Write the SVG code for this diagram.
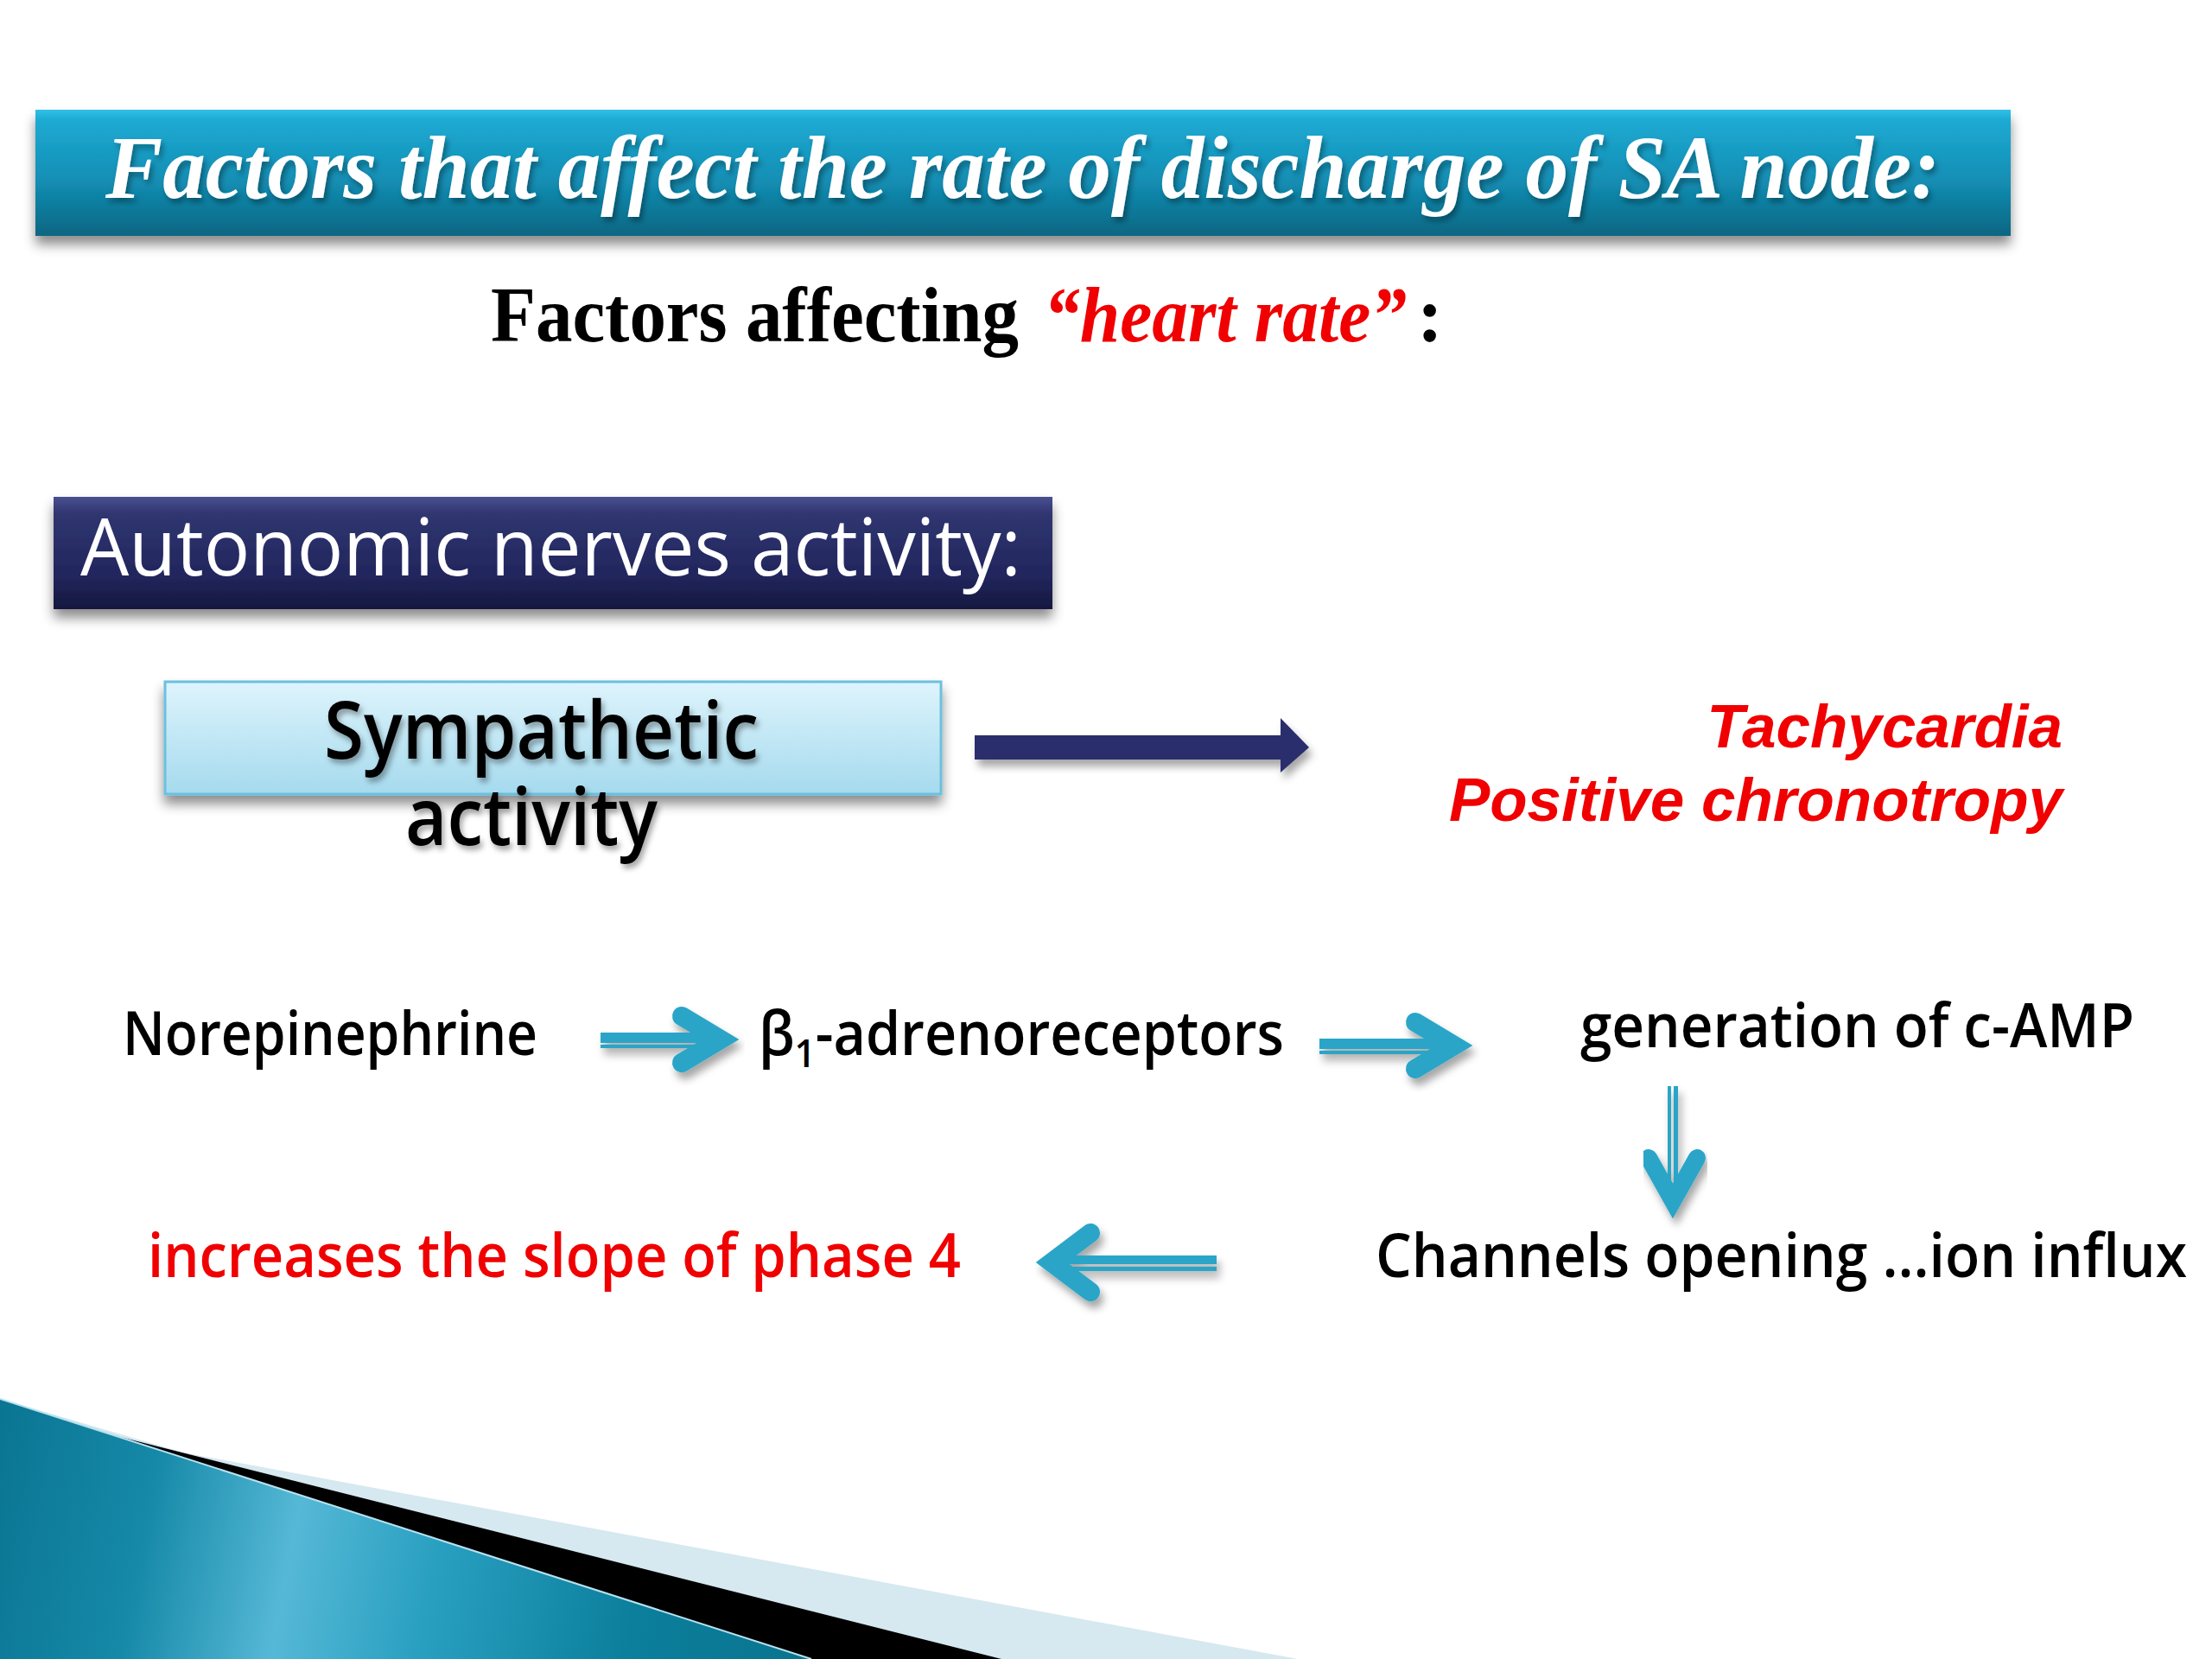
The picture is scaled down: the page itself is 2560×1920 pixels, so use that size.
<svg xmlns="http://www.w3.org/2000/svg" width="2560" height="1920" viewBox="0 0 2560 1920">
<style>
.sans{font-family:"Open Sans","Noto Sans","DejaVu Sans",sans-serif;}
.body{font-size:70px;fill:#000;font-weight:600;}
.red{fill:#f00000;}
.cy{fill:#2aa5c8;}
.cyl{stroke:#2aa5c8;fill:none;stroke-width:22;stroke-linecap:round;stroke-linejoin:miter;stroke-miterlimit:6;}
.serif{font-family:"Liberation Serif","Times New Roman",serif;font-weight:bold;}
</style>
<defs>
<linearGradient id="gTitle" x1="0" y1="0" x2="0" y2="1">
<stop offset="0" stop-color="#2fc0e8"/>
<stop offset="0.08" stop-color="#1eaad3"/>
<stop offset="0.55" stop-color="#138fb5"/>
<stop offset="1" stop-color="#0a6682"/>
</linearGradient>
<linearGradient id="gAuto" x1="0" y1="0" x2="0" y2="1">
<stop offset="0" stop-color="#4a5090"/>
<stop offset="0.15" stop-color="#303570"/>
<stop offset="0.7" stop-color="#22265d"/>
<stop offset="1" stop-color="#15183f"/>
</linearGradient>
<linearGradient id="gSym" x1="0" y1="0" x2="0" y2="1">
<stop offset="0" stop-color="#def4fc"/>
<stop offset="1" stop-color="#a5daee"/>
</linearGradient>
<linearGradient id="gTeal" x1="0" y1="1620" x2="940" y2="1800" gradientUnits="userSpaceOnUse">
<stop offset="0" stop-color="#0a7593"/>
<stop offset="0.2" stop-color="#1689a8"/>
<stop offset="0.38" stop-color="#55b8d6"/>
<stop offset="0.55" stop-color="#2aa0c1"/>
<stop offset="0.8" stop-color="#0b7f9c"/>
<stop offset="1" stop-color="#0a7590"/>
</linearGradient>
<filter id="sh" x="-5%" y="-20%" width="110%" height="160%">
<feDropShadow dx="0" dy="10" stdDeviation="7" flood-color="#000" flood-opacity="0.45"/>
</filter>
<filter id="shs" x="-10%" y="-30%" width="130%" height="180%">
<feDropShadow dx="4" dy="8" stdDeviation="5" flood-color="#000" flood-opacity="0.35"/>
</filter>
<filter id="tsh" x="-5%" y="-20%" width="110%" height="150%">
<feDropShadow dx="3" dy="5" stdDeviation="3" flood-color="#000" flood-opacity="0.35"/>
</filter>
</defs>
<rect width="2560" height="1920" fill="#fff"/>

<g id="decoration">
<polygon points="0,1619 212,1681 1502,1920 0,1920" fill="#d6e8f0"/>
<polygon points="0,1619 139,1663 1159,1920 0,1920" fill="#000"/>
<polygon points="0,1619 939,1920 0,1920" fill="url(#gTeal)"/>
<line x1="0" y1="1619" x2="939" y2="1920" stroke="#b8e2ef" stroke-width="2"/>
</g>

<g id="title">
<rect x="41" y="127" width="2286" height="146" fill="url(#gTitle)" filter="url(#sh)"/>
<text class="serif" x="122" y="229" font-style="italic" font-size="104" fill="#fff" textLength="2123" lengthAdjust="spacingAndGlyphs" filter="url(#tsh)">Factors that affect the rate of discharge of SA node:</text>
</g>

<g id="subtitle">
<text class="serif" x="568" y="395" font-size="90" fill="#000" textLength="611" lengthAdjust="spacingAndGlyphs">Factors affecting</text>
<text class="serif" x="1208" y="395" font-size="90" font-style="italic" fill="#f00000" textLength="420" lengthAdjust="spacingAndGlyphs">“heart rate”</text>
<text class="serif" x="1640" y="395" font-size="90" fill="#000">:</text>
</g>

<g id="autonomic">
<rect x="62" y="575" width="1156" height="130" fill="url(#gAuto)" filter="url(#sh)"/>
<text class="sans" x="93" y="666" font-size="92" font-weight="500" fill="#fff" textLength="1089" lengthAdjust="spacingAndGlyphs">Autonomic nerves activity:</text>
</g>

<g id="sympathetic">
<rect x="191" y="789" width="898" height="130" fill="url(#gSym)" stroke="#6cc0de" stroke-width="3" filter="url(#sh)"/>
<g filter="url(#tsh)">
<text class="sans" x="375" y="878" font-size="92" font-weight="600" fill="#000" textLength="503" lengthAdjust="spacingAndGlyphs">Sympathetic</text>
<text class="sans" x="469" y="978" font-size="92" font-weight="600" fill="#000" textLength="292" lengthAdjust="spacingAndGlyphs">activity</text>
</g>
</g>

<g id="result">
<text x="2387" y="865" text-anchor="end" font-family="'Liberation Sans',Arial,sans-serif" font-weight="bold" font-style="italic" font-size="71" fill="#f00000">Tachycardia</text>
<text x="2387" y="950" text-anchor="end" font-family="'Liberation Sans',Arial,sans-serif" font-weight="bold" font-style="italic" font-size="71" fill="#f00000">Positive chronotropy</text>
</g>

<g id="norepinephrine">
<text class="sans body" x="142" y="1221" textLength="480" lengthAdjust="spacingAndGlyphs">Norepinephrine</text>
</g>
<g id="beta1">
<text class="sans body" x="878" y="1221" textLength="608" lengthAdjust="spacingAndGlyphs">β<tspan font-size="46" dy="14">1</tspan><tspan dy="-14">-adrenoreceptors</tspan></text>
</g>
<g id="camp">
<text class="sans body" x="1829" y="1212" textLength="641" lengthAdjust="spacingAndGlyphs">generation of c-AMP</text>
</g>
<g id="channels">
<text class="sans body" x="1592" y="1478" textLength="939" lengthAdjust="spacingAndGlyphs">Channels opening ...ion influx</text>
</g>
<g id="slope">
<text class="sans body red" x="171" y="1478" textLength="941" lengthAdjust="spacingAndGlyphs">increases the slope of phase 4</text>
</g>

<g id="connectors">
<g id="arrow-sym-result" filter="url(#shs)">
<path d="M1128,851 H1482 V831 L1515,865 L1482,894 V879 H1128 Z" fill="#2b2f6c"/>
</g>
<g id="arrow-ne-beta" filter="url(#shs)">
<rect class="cy" x="695" y="1195" width="135" height="12"/>
<rect class="cy" x="695" y="1209" width="130" height="4"/>
<polyline class="cyl" points="789,1176 834,1203 789,1230"/>
</g>
<g id="arrow-beta-camp" filter="url(#shs)">
<rect class="cy" x="1527" y="1202" width="155" height="12"/>
<rect class="cy" x="1527" y="1216" width="150" height="4"/>
<polyline class="cyl" points="1638,1183 1683,1210 1638,1237"/>
</g>
<g id="arrow-camp-channels" filter="url(#shs)">
<rect class="cy" x="1930" y="1257" width="4" height="125"/>
<rect class="cy" x="1937" y="1257" width="5" height="125"/>
<polyline class="cyl" style="stroke-width:20" points="1908,1340 1936,1390 1964,1340"/>
</g>
<g id="arrow-channels-slope" filter="url(#shs)">
<rect class="cy" x="1228" y="1453" width="180" height="10"/>
<rect class="cy" x="1240" y="1466" width="168" height="5"/>
<polyline class="cyl" points="1262,1427 1217,1461 1262,1495"/>
</g>
</g>
</svg>
